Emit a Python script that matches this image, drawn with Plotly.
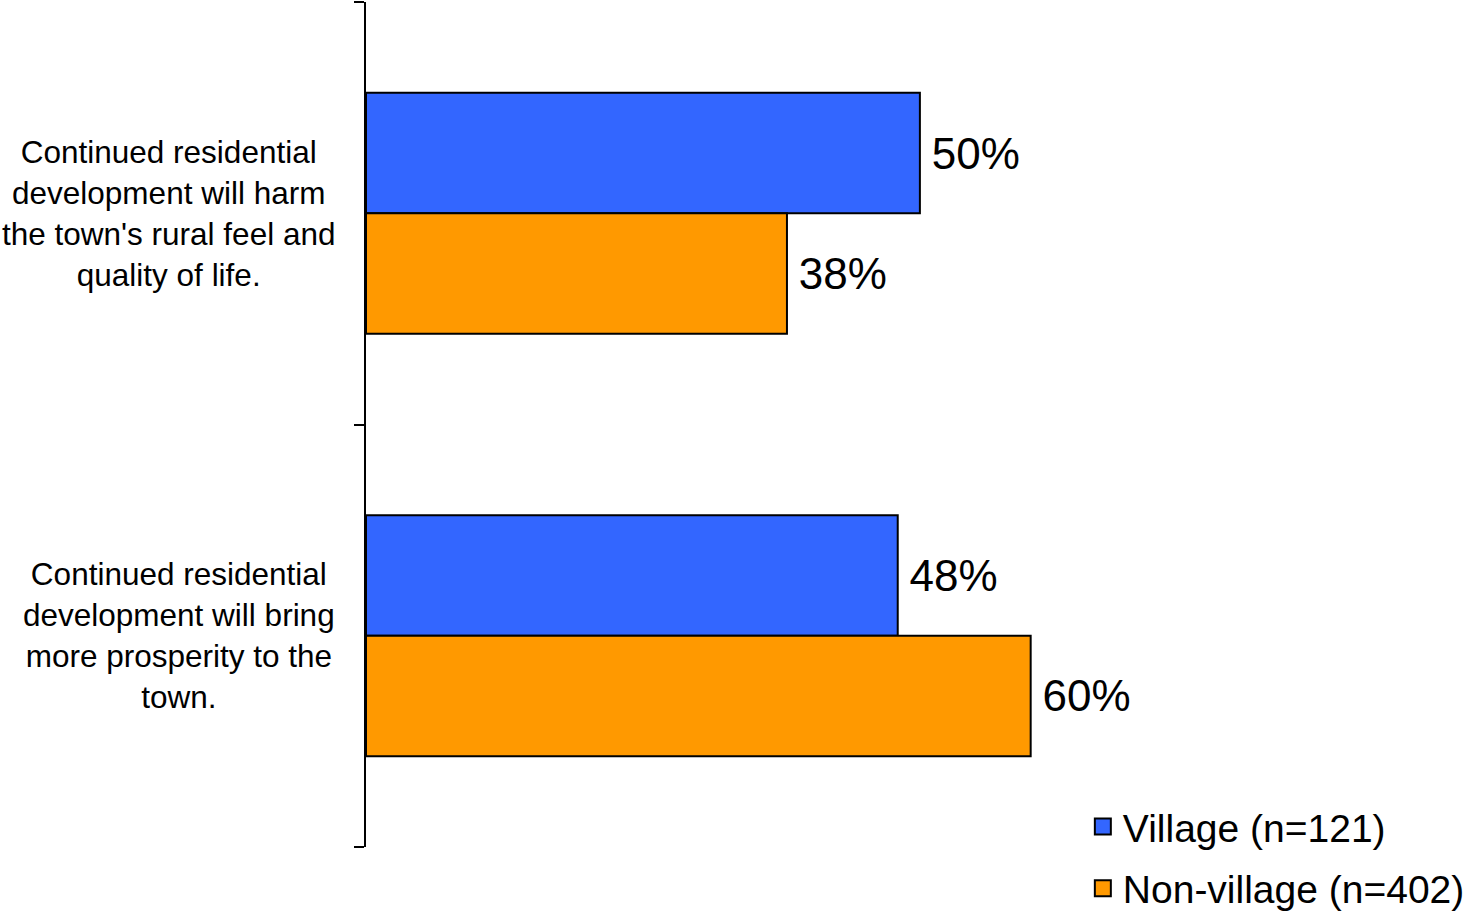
import plotly.graph_objects as go

categories = [
    "Continued residential<br>development will harm<br>the town's rural feel and<br>quality of life.",
    "Continued residential<br>development will bring<br>more prosperity to the<br>town.",
]
series_names = ["Village (n=121)", "Non-village (n=402)"]
village = [50, 48]
non_village = [38, 60]
colors = ["#3366FF", "#FF9900"]

FONT = "Liberation Sans, Arial, sans-serif"
positions = list(range(len(categories)))
boundaries = [p - 0.5 for p in positions] + [positions[-1] + 0.5]

fig = go.Figure()
for name, vals, col in zip(series_names, [village, non_village], colors):
    fig.add_trace(go.Bar(
        y=positions, x=vals, orientation="h", name=name,
        marker=dict(color=col, line=dict(color="black", width=2)),
        texttemplate="\u2009%{x}%", textposition="outside",
        textfont=dict(size=44, color="black", family=FONT),
        cliponaxis=False, showlegend=False, legendgroup=name,
        hovertext=categories,
    ))
    fig.add_trace(go.Scatter(
        x=[None], y=[None], mode="markers", name=name, legendgroup=name,
        marker=dict(symbol="square", size=16, color=col, line=dict(color="black", width=2)),
        showlegend=True,
    ))

for pos, cat in zip(positions, categories):
    fig.add_annotation(
        x=-0.029, xref="paper", y=pos, yref="y", text=cat, showarrow=False,
        xanchor="right", yanchor="middle", align="center",
        font=dict(size=31.5, color="black", family=FONT),
    )

fig.update_layout(
    width=1464, height=913,
    margin=dict(l=366, r=101, t=2, b=66, autoexpand=False),
    paper_bgcolor="white", plot_bgcolor="white",
    barmode="group", bargap=0.43, bargroupgap=0,
    font=dict(family=FONT, color="black"),
    xaxis=dict(range=[0, 90], visible=False),
    yaxis=dict(
        range=[boundaries[-1], boundaries[0]], showticklabels=False,
        tickmode="array", tickvals=boundaries,
        showline=True, linecolor="black", linewidth=2,
        ticks="outside", ticklen=10, tickwidth=2, tickcolor="black",
        showgrid=False, zeroline=False,
    ),
    legend=dict(
        x=0.719, y=0.062, xanchor="left", yanchor="top",
        font=dict(size=39, color="black", family=FONT),
        tracegroupgap=8, bgcolor="rgba(0,0,0,0)",
    ),
)

fig.write_html("out.html", config={"displayModeBar": False},
               post_script="document.body.style.margin='0px';")
